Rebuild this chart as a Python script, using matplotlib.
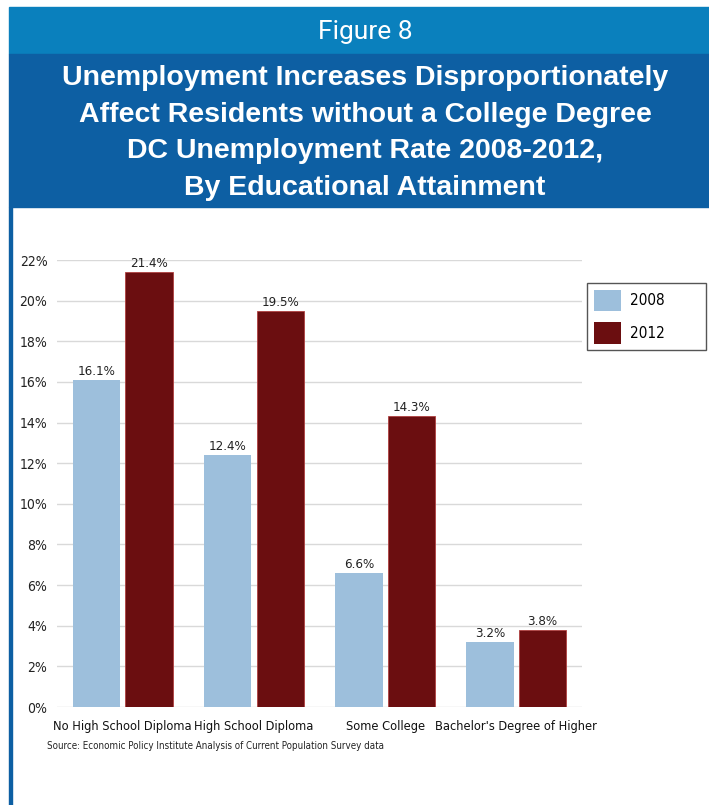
import matplotlib
matplotlib.use("Agg")
import matplotlib.pyplot as plt
from matplotlib.patches import Rectangle, Patch
import numpy as np

categories = ["No High School Diploma", "High School Diploma", "Some College",
              "Bachelor's Degree of Higher"]
rate_2008 = [16.1, 12.4, 6.6, 3.2]
rate_2012 = [21.4, 19.5, 14.3, 3.8]
series_labels = ["2008", "2012"]
y_ticks = [0, 2, 4, 6, 8, 10, 12, 14, 16, 18, 20, 22]

figure_label = "Figure 8"
title_lines = ["Unemployment Increases Disproportionately",
               "Affect Residents without a College Degree",
               "DC Unemployment Rate 2008-2012,",
               "By Educational Attainment"]
source_note = "Source: Economic Policy Institute Analysis of Current Population Survey data"

LIGHT_BAR = "#9dbfdc"
DARK_BAR = "#6b0e10"

W, H = 709, 805
fig = plt.figure(figsize=(W / 100, H / 100), dpi=100)
fig.patch.set_facecolor("white")


def fx(px):
    return px / W


def fy(py):
    return 1 - py / H


NARROW = dict(family="DejaVu Sans", stretch="condensed")

# header bands and the left rule
fig.patches.append(Rectangle((fx(9), fy(54)), fx(W - 9), 47 / H,
                             transform=fig.transFigure, color="#0a80bd", zorder=0))
fig.patches.append(Rectangle((fx(9), fy(207)), fx(W - 9), 153 / H,
                             transform=fig.transFigure, color="#0d5fa3", zorder=0))
fig.patches.append(Rectangle((fx(9), 0), fx(3), fy(207),
                             transform=fig.transFigure, color="#0d5fa3", zorder=0))

fig.text(fx(365), fy(32), figure_label, color="white", fontsize=19,
         family="Roboto", ha="center", va="center")
for i, line in enumerate(title_lines):
    fig.text(fx(365), fy(78 + 36.5 * i), line, color="white", fontsize=20.5,
             fontweight="bold", family="Liberation Sans", ha="center", va="center")

ax = fig.add_axes([fx(57), fy(707), fx(582 - 57), (707 - 260) / H])
x = np.arange(len(categories))
bw = 0.36
off = 0.2
b1 = ax.bar(x - off, rate_2008, bw, color=LIGHT_BAR, zorder=2)
b2 = ax.bar(x + off, rate_2012, bw, color=DARK_BAR, edgecolor="#b04040",
            linewidth=0.6, zorder=2)
for bars, vals in ((b1, rate_2008), (b2, rate_2012)):
    for rect, v in zip(bars, vals):
        ax.annotate(f"{v}%", (rect.get_x() + rect.get_width() / 2, v),
                    xytext=(0, 1.5), textcoords="offset points", ha="center",
                    va="bottom", fontsize=9.5, color="#222222", **NARROW)

ax.set_xlim(-0.5, 3.5)
ax.set_ylim(0, 22)
ax.set_yticks(y_ticks)
ax.set_yticklabels([f"{t}%" for t in y_ticks], fontsize=10,
                   color="#222222", **NARROW)
ax.yaxis.grid(True, color="#d9d9d9", linewidth=1, zorder=0)
ax.set_axisbelow(True)
ax.tick_params(axis="y", length=0, pad=7)
ax.tick_params(axis="x", length=0, pad=9)
ax.set_xticks(x)
ax.set_xticklabels(categories, fontsize=9.2, color="#111111", **NARROW)
for s in ax.spines.values():
    s.set_visible(False)

handles = [Patch(facecolor=LIGHT_BAR), Patch(facecolor=DARK_BAR)]
leg = fig.legend(handles, series_labels, loc="upper left",
                 bbox_to_anchor=(fx(587), fy(359), fx(706 - 587), (359 - 283) / H),
                 mode="expand", borderpad=0.45, handlelength=1.75, handleheight=1.75,
                 labelspacing=0.75, handletextpad=0.6, borderaxespad=0,
                 prop=dict(size=11, **NARROW), fancybox=False,
                 edgecolor="#555555", framealpha=1)
leg.get_frame().set_linewidth(1.0)

fig.text(fx(47), fy(746), source_note, fontsize=7,
         color="#222222", ha="left", va="center", **NARROW)

fig.savefig("out.png", dpi=100)
